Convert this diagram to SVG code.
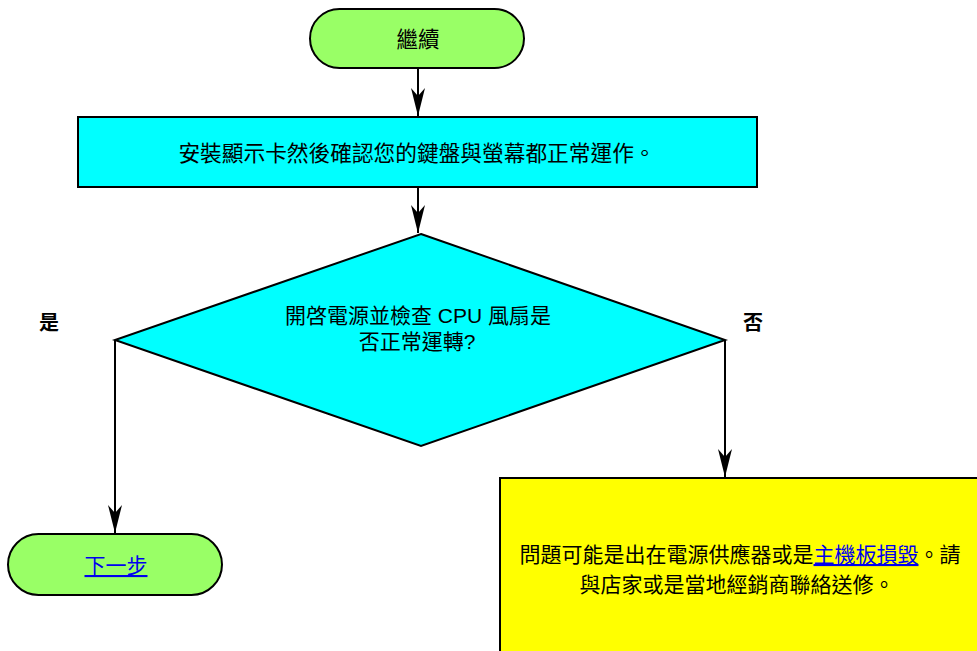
<svg xmlns="http://www.w3.org/2000/svg" width="977" height="651" viewBox="0 0 977 651">
<style>
.t{font-family:"Liberation Sans","Noto Sans CJK TC",sans-serif;font-size:21px;fill:#000;text-anchor:middle}
.lk{fill:#0000ee;text-decoration:underline}
.lab{font-family:"Noto Sans CJK TC",sans-serif;font-size:20px;font-weight:bold;fill:#000;text-anchor:middle}
.term{fill:#99ff66;stroke:#000;stroke-width:2}
.proc{fill:#00ffff;stroke:#000;stroke-width:2}
.warn{fill:#ffff00;stroke:#000;stroke-width:2}
.edge{fill:none;stroke:#000;stroke-width:2}
</style>
<defs>
<marker id="ah" markerUnits="userSpaceOnUse" markerWidth="32" markerHeight="20" refX="28" refY="8" orient="auto" viewBox="0 0 32 16">
<path d="M28,8 L0,1 L8,8 L0,15 Z" fill="#000"/>
</marker>
</defs>
<g id="edges">
<path class="edge" d="M418,68 V116" marker-end="url(#ah)"/>
<path class="edge" d="M418,187 V233" marker-end="url(#ah)"/>
<path class="edge" d="M115,340 V533" marker-end="url(#ah)"/>
<path class="edge" d="M725,340 V477" marker-end="url(#ah)"/>
</g>
<g id="start">
<rect class="term" x="310" y="9" width="214" height="59" rx="29.5" ry="29.5"/>
<text class="t" x="418" y="47" style="font-size:21.5px">繼續</text>
</g>
<g id="install">
<rect class="proc" x="78" y="117" width="679" height="70"/>
<text class="t" x="417" y="161" style="font-size:21.7px">安裝顯示卡然後確認您的鍵盤與螢幕都正常運作。</text>
</g>
<g id="check">
<polygon class="proc" points="421,234 725,340 421,446 115,340"/>
<text class="t" x="418" y="323">開啓電源並檢查 CPU 風扇是</text>
<text class="t" x="417" y="349">否正常運轉?</text>
</g>
<g id="yes-label"><text class="lab" x="49" y="330">是</text></g>
<g id="no-label"><text class="lab" x="753" y="330">否</text></g>
<g id="next">
<rect class="term" x="8" y="534" width="214" height="61" rx="30.5" ry="30.5"/>
<text class="t" x="116" y="573"><tspan class="lk">下一步</tspan></text>
</g>
<g id="fault">
<rect class="warn" x="500" y="478" width="480" height="180"/>
<text class="t" x="740" y="562">問題可能是出在電源供應器或是<tspan class="lk">主機板損毀</tspan>。請</text>
<text class="t" x="737" y="592">與店家或是當地經銷商聯絡送修。</text>
</g>
</svg>
